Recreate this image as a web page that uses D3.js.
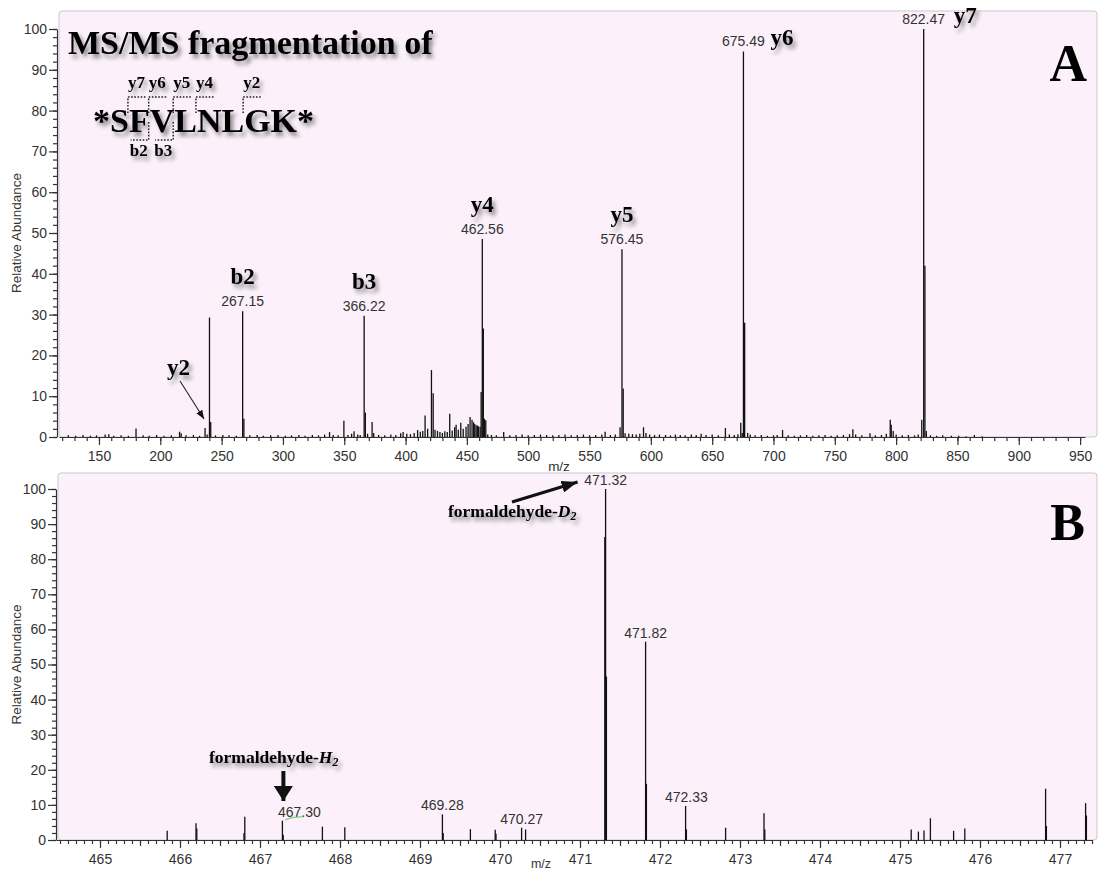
<!DOCTYPE html>
<html>
<head>
<meta charset="utf-8">
<script src="https://cdn.jsdelivr.net/npm/d3@7"></script>
<style>
  body { margin: 0; background: #fff; }
  svg { display: block; }
</style>
</head>
<body>
<div id="chart"></div>
<script>
// ---- Panel A : MS/MS spectrum of *SFVLNLGK* ----
const mzA = [125, 131, 137, 143, 148, 155, 158, 162, 168, 174, 180.2, 186, 191, 197, 203, 209, 215.7, 217, 221, 227, 232,
  236.5, 238.2, 240.1, 241.1, 245, 251, 256, 262, 267.15, 268.15, 273, 279, 284, 290, 296, 302, 307, 313, 318, 324, 329,
  334, 338, 341, 345, 349.7, 353, 356, 358, 361, 363, 366.22, 367.2, 369, 372.7, 374, 378, 383, 388, 392, 396, 398, 401,
  404, 407, 409.8, 412, 414, 415.9, 418, 421.1, 422.5, 424, 426, 428, 430, 432, 434, 436, 438, 440, 441.2, 443, 445, 447,
  449.3, 451, 452.6, 454.2, 455.5, 456.4, 457.5, 458.5, 459.5, 460.8, 461.6, 462.56, 463.4, 464.3, 465.4, 467, 470, 474,
  480, 485, 490, 495, 500, 505, 510, 515, 520, 525, 530, 535, 540, 545, 550, 555, 560, 562.7, 567, 571, 574.9, 576.45,
  577.45, 579, 582, 585, 588, 591, 594, 596, 599, 603, 607, 612, 616, 620, 624, 628, 633, 637, 641, 645, 650, 655, 660.8,
  664, 668, 671, 673.3, 674.5, 675.49, 676.49, 678.9, 681, 685, 690, 695, 700, 703, 707.4, 712, 717, 722, 727, 732, 737,
  742, 747, 752, 757, 762, 764.7, 767, 772, 778.7, 783, 788, 792, 795.2, 796, 797.6, 800, 805, 810, 815, 818, 820.9,
  822.47, 823.47, 824.6, 828, 833, 838, 845, 851, 857, 863.8, 870];
const intA = [0.4, 0.3, 0.5, 0.3, 0.4, 0.6, 0.7, 0.3, 0.4, 0.3, 2.1, 0.4, 0.3, 0.5, 0.3, 0.4, 1.3, 0.9, 0.4, 0.5, 0.3,
  2.2, 0.6, 29.3, 3.7, 0.4, 0.5, 0.4, 0.3, 30.8, 4.5, 0.4, 0.5, 0.3, 0.4, 0.5, 0.3, 0.4, 0.5, 0.3, 0.5, 0.4,
  0.6, 1.2, 0.5, 0.4, 4.0, 0.5, 0.8, 1.4, 0.6, 0.5, 29.7, 6.0, 0.8, 3.7, 1.0, 0.5, 0.4, 0.6, 0.5, 0.9, 1.2, 0.8,
  0.7, 1.0, 1.7, 1.3, 1.5, 5.3, 2.0, 16.4, 10.7, 1.8, 1.5, 1.2, 1.0, 1.4, 1.2, 5.7, 1.6, 2.4, 3.0, 1.8, 3.5, 2.0,
  2.5, 3.2, 4.9, 4.2, 3.6, 3.2, 2.9, 2.8, 2.6, 2.5, 11.0, 48.5, 26.6, 4.5, 4.1, 0.6, 0.5, 0.4,
  1.2, 0.4, 0.5, 0.6, 0.4, 0.5, 0.6, 0.5, 0.4, 0.5, 0.6, 0.4, 0.5, 0.6, 0.4, 0.5, 0.6, 1.3, 0.5, 0.6, 2.4, 46.0,
  11.9, 0.9, 0.8, 0.7, 0.6, 0.8, 2.4, 1.0, 0.6, 0.5, 0.6, 0.5, 0.4, 0.6, 0.5, 0.4, 0.6, 0.5, 0.8, 0.5, 0.6, 0.4, 2.2,
  0.6, 0.5, 0.7, 3.5, 1.0, 94.5, 28.0, 1.0, 0.6, 0.4, 0.5, 0.3, 0.4, 0.5, 1.7, 0.4, 0.3, 0.4, 0.5, 0.3, 0.4,
  0.5, 0.3, 0.4, 0.5, 0.7, 1.9, 0.6, 0.4, 0.9, 0.4, 0.5, 0.8, 4.2, 3.0, 1.5, 0.6, 0.4, 0.5, 0.4, 0.6, 4.2,
  100, 42, 1.5, 0.4, 0.3, 0.4, 0.3, 0.3, 0.2, 0.5, 0.2];

// labelled peaks in A and their fragment ion names
const labelMzA = [267.15, 366.22, 462.56, 576.45, 675.49, 822.47];
const labelIntA = [30.8, 29.7, 48.5, 46.0, 94.5, 100];
const ionA = ["b2", "b3", "y4", "y5", "y6", "y7"];

// ---- Panel B : zoom around the precursor ----
const mzB = [465.84, 466.2, 466.21, 466.8, 466.81, 467.28, 467.29, 467.78, 468.06, 469.28, 469.29, 469.63, 469.94,
  469.95, 470.27, 470.32, 471.31, 471.32, 471.33, 471.82, 471.83, 472.32, 472.33, 472.82, 473.3, 473.31, 475.14,
  475.23, 475.3, 475.38, 475.67, 475.81, 476.82, 476.83, 477.32, 477.33];
const intB = [2.6, 4.8, 3.3, 2.0, 6.6, 5.5, 1.5, 3.8, 3.6, 7.3, 2.0, 3.1, 2.9,
  1.8, 3.5, 3.0, 86.3, 100, 46.6, 56.5, 16.0, 9.7, 3.0, 3.5, 7.6, 3.0, 3.0,
  2.4, 2.7, 6.2, 2.6, 3.3, 14.6, 4.0, 10.5, 7.0];
const labelMzB = [467.30, 469.28, 470.27, 471.32, 471.82, 472.33];
const labelIntB = [5.5, 7.3, 3.5, 100, 56.5, 9.7];

// axis ticks
const xTicksA = d3.range(150, 951, 50);
const xMinorA = d3.range(120, 951, 10);
const xTicksB = d3.range(465, 478);
const xMinorB = d3.range(4645, 4775).map(v => v / 10);
const yTicks = d3.range(0, 101, 10);
const yMinor = d3.range(0, 101, 2);

// peptide annotation
const peptide = "*SFVLNLGK*";
const yIons = ["y7", "y6", "y5", "y4", "y2"];
const yCutChar = [2, 3, 4, 5, 7];
const bIons = ["b2", "b3"];
const bCutChar = [3, 4];

const W = 1099, H = 870;
const sans = "'Liberation Sans', Arial, sans-serif";
const serif = "'Liberation Serif', 'Times New Roman', serif";
const pink = "#fcf1fa";
const tickCol = "#333";

const svg = d3.select("#chart").append("svg")
  .attr("width", W)
  .attr("height", H)
  .style("background", "#fff");

// ---- defs: soft shadow + arrow heads ----
const defs = svg.append("defs");
const f = defs.append("filter").attr("id", "shadow")
  .attr("x", "-20%").attr("y", "-30%").attr("width", "150%").attr("height", "180%");
f.append("feGaussianBlur").attr("in", "SourceAlpha").attr("stdDeviation", 2.2).attr("result", "blur");
f.append("feOffset").attr("in", "blur").attr("dx", 3).attr("dy", 4).attr("result", "off");
f.append("feComponentTransfer").attr("in", "off").attr("result", "soft")
  .append("feFuncA").attr("type", "linear").attr("slope", 0.45);
const fm = f.append("feMerge");
fm.append("feMergeNode").attr("in", "soft");
fm.append("feMergeNode").attr("in", "SourceGraphic");

function marker(id, len, wid) {
  defs.append("marker").attr("id", id)
    .attr("markerUnits", "userSpaceOnUse")
    .attr("viewBox", `0 0 ${len} ${wid}`)
    .attr("refX", len).attr("refY", wid / 2)
    .attr("markerWidth", len).attr("markerHeight", wid)
    .attr("orient", "auto")
    .append("path")
    .attr("d", `M0,0 L${len},${wid / 2} L0,${wid} Z`)
    .attr("fill", "#111");
}
marker("headSmall", 9, 7);
marker("headBig", 16, 12);
marker("headDown", 15, 19);

// ---- scales ----
const xA = d3.scaleLinear().domain([117.4, 954]).range([59, 1085]);
const yA = d3.scaleLinear().domain([0, 100]).range([437, 29]);
const xB = d3.scaleLinear().domain([464.45, 477.4]).range([56, 1092]);
const yB = d3.scaleLinear().domain([0, 100]).range([840, 489]);

function panel(x, y, frame, mz, ints, xMaj, xMin, xMidStep) {
  const g = svg.append("g");

  // plot background
  g.append("rect")
    .attr("x", frame[0]).attr("y", frame[1])
    .attr("width", frame[2] - frame[0]).attr("height", y(0) - frame[1])
    .attr("rx", 3)
    .attr("fill", pink)
    .attr("stroke", "#c9c9c9")
    .attr("stroke-width", 1);

  // sticks
  g.selectAll("line.peak")
    .data(d3.zip(mz, ints))
    .join("line")
    .attr("class", "peak")
    .attr("x1", d => x(d[0])).attr("x2", d => x(d[0]))
    .attr("y1", y(0)).attr("y2", d => y(d[1]))
    .attr("stroke", "#111")
    .attr("stroke-width", 1.3);

  // y axis
  g.append("g")
    .attr("transform", `translate(${frame[0] - 2},0)`)
    .call(d3.axisLeft(y).tickValues(yTicks).tickSize(8).tickPadding(2).tickSizeOuter(0));
  g.append("g")
    .attr("transform", `translate(${frame[0] - 2},0)`)
    .call(d3.axisLeft(y).tickValues(yMinor).tickSize(4).tickFormat("").tickSizeOuter(0))
    .select(".domain").remove();

  // x axis
  g.append("g")
    .attr("transform", `translate(0,${y(0)})`)
    .call(d3.axisBottom(x).tickValues(xMaj).tickSize(8).tickPadding(6).tickSizeOuter(0));
  g.append("g")
    .attr("transform", `translate(0,${y(0)})`)
    .call(d3.axisBottom(x).tickValues(xMin).tickSize(4).tickFormat("").tickSizeOuter(0))
    .select(".domain").remove();
  if (xMidStep) {
    g.append("g")
      .attr("transform", `translate(0,${y(0)})`)
      .call(d3.axisBottom(x).tickValues(xMidStep).tickSize(6).tickFormat("").tickSizeOuter(0))
      .select(".domain").remove();
  }

  g.selectAll(".tick text")
    .attr("font-family", sans)
    .attr("font-size", 14)
    .attr("fill", tickCol);
  g.selectAll(".tick line, .domain")
    .attr("stroke", tickCol)
    .attr("stroke-width", 1.2);

  // axis titles
  g.append("text")
    .attr("transform", `translate(21,${(y(0) + y(100)) / 2}) rotate(-90)`)
    .attr("text-anchor", "middle")
    .attr("font-family", sans)
    .attr("font-size", 13.5)
    .attr("fill", tickCol)
    .text("Relative Abundance");
  return g;
}

// ================= Panel A =================
const gA = panel(xA, yA, [59, 11, 1097], mzA, intA, xTicksA, xMinorA, null);

gA.append("text")
  .attr("x", 559).attr("y", 471)
  .attr("text-anchor", "middle")
  .attr("font-family", sans).attr("font-size", 13.5).attr("fill", tickCol)
  .text("m/z");

// m/z value labels
gA.selectAll("text.mzlab")
  .data(d3.zip(labelMzA, labelIntA))
  .join("text")
  .attr("class", "mzlab")
  .attr("x", d => xA(d[0]))
  .attr("y", d => yA(d[1]) - 5)
  .attr("text-anchor", "middle")
  .attr("font-family", sans).attr("font-size", 14).attr("fill", tickCol)
  .text(d => d[0].toFixed(2));

// fragment ion names (b2..y5 above the value, y6/y7 to the right)
gA.selectAll("text.ion")
  .data(d3.zip(labelMzA, labelIntA, ionA))
  .join("text")
  .attr("class", "ion")
  .attr("x", d => d[1] > 90 ? xA(d[0]) + (d[2] === "y7" ? 30 : 27) : xA(d[0]))
  .attr("y", d => d[1] > 90 ? yA(d[1]) - 6 : yA(d[1]) - 27)
  .attr("text-anchor", d => d[1] > 90 ? "start" : "middle")
  .attr("font-family", serif).attr("font-weight", "bold").attr("font-size", 23)
  .attr("filter", "url(#shadow)")
  .text(d => d[2]);

// y2 with its arrow
gA.append("text")
  .attr("x", 190).attr("y", 375)
  .attr("text-anchor", "end")
  .attr("font-family", serif).attr("font-weight", "bold").attr("font-size", 23)
  .attr("filter", "url(#shadow)")
  .text("y2");
gA.append("line")
  .attr("x1", 180).attr("y1", 381)
  .attr("x2", xA(235.7)).attr("y2", yA(4.4))
  .attr("stroke", "#222").attr("stroke-width", 1.1)
  .attr("marker-end", "url(#headSmall)");

// panel letter
gA.append("text")
  .attr("x", 1087).attr("y", 81)
  .attr("text-anchor", "end")
  .attr("font-family", serif).attr("font-weight", "bold").attr("font-size", 52)
  .text("A");

// title + peptide scheme
gA.append("text")
  .attr("x", 68).attr("y", 54)
  .attr("font-family", serif).attr("font-weight", "bold").attr("font-size", 34)
  .attr("filter", "url(#shadow)")
  .text("MS/MS fragmentation of");

const pep = gA.append("text")
  .attr("x", 93).attr("y", 132)
  .attr("font-family", serif).attr("font-weight", "bold").attr("font-size", 34)
  .attr("filter", "url(#shadow)")
  .text(peptide);

const pepNode = pep.node();
const cutX = i => pepNode.getStartPositionOfChar(i).x - 1;
const dots = "1.6,1.6";

yIons.forEach((name, k) => {
  const cx = cutX(yCutChar[k]);
  gA.append("path")
    .attr("d", `M${cx},113 V97 H${cx + 19}`)
    .attr("fill", "none").attr("stroke", "#222").attr("stroke-width", 1.5)
    .attr("stroke-dasharray", dots);
  gA.append("text")
    .attr("x", cx).attr("y", 88)
    .attr("font-family", serif).attr("font-weight", "bold").attr("font-size", 17)
    .attr("filter", "url(#shadow)")
    .text(name);
});

bIons.forEach((name, k) => {
  const cx = cutX(bCutChar[k]);
  gA.append("path")
    .attr("d", `M${cx},122 V140 H${cx - 18}`)
    .attr("fill", "none").attr("stroke", "#222").attr("stroke-width", 1.5)
    .attr("stroke-dasharray", dots);
  gA.append("text")
    .attr("x", cx - 1).attr("y", 156)
    .attr("text-anchor", "end")
    .attr("font-family", serif).attr("font-weight", "bold").attr("font-size", 17)
    .attr("filter", "url(#shadow)")
    .text(name);
});

// ================= Panel B =================
const midB = d3.range(465, 477).map(v => v + 0.5);
const gB = panel(xB, yB, [58, 473, 1097], mzB, intB, xTicksB, xMinorB, midB);

gB.append("text")
  .attr("x", 541).attr("y", 868)
  .attr("text-anchor", "middle")
  .attr("font-family", sans).attr("font-size", 12.5).attr("fill", tickCol)
  .text("m/z");

gB.selectAll("text.mzlab")
  .data(d3.zip(labelMzB, labelIntB))
  .join("text")
  .attr("class", "mzlab")
  .attr("x", d => d[0] === 467.30 ? xB(d[0]) - 6 : xB(d[0]))
  .attr("y", d => yB(d[1]) - 4)
  .attr("text-anchor", d => d[0] === 467.30 ? "start" : "middle")
  .attr("font-family", sans).attr("font-size", 14).attr("fill", tickCol)
  .text(d => d[0].toFixed(2));

// little green mark under 467.30
gB.append("path")
  .attr("d", `M${xB(467.30) + 1},820 Q${xB(467.30) + 10},816 ${xB(467.30) + 19},817`)
  .attr("fill", "none").attr("stroke", "#7ccf7c").attr("stroke-width", 1.2);

function formaldehyde(x, y, iso) {
  const t = gB.append("text")
    .attr("x", x).attr("y", y)
    .attr("font-family", serif).attr("font-weight", "bold").attr("font-size", 17.5)
    .attr("filter", "url(#shadow)");
  t.append("tspan").text("formaldehyde-");
  t.append("tspan").attr("font-style", "italic").text(iso);
  t.append("tspan").attr("font-style", "italic").attr("font-size", 12).attr("dy", 3).text("2");
}
formaldehyde(448, 517, "D");
formaldehyde(209, 763, "H");

// arrows
gB.append("line")
  .attr("x1", 512).attr("y1", 502)
  .attr("x2", xB(471.32) - 28).attr("y2", yB(100) - 7)
  .attr("stroke", "#111").attr("stroke-width", 3.2)
  .attr("marker-end", "url(#headBig)");
gB.append("line")
  .attr("x1", xB(467.28) + 1).attr("y1", 771)
  .attr("x2", xB(467.28) + 1).attr("y2", 801)
  .attr("stroke", "#111").attr("stroke-width", 4)
  .attr("marker-end", "url(#headDown)");

gB.append("text")
  .attr("x", 1085).attr("y", 540)
  .attr("text-anchor", "end")
  .attr("font-family", serif).attr("font-weight", "bold").attr("font-size", 52)
  .text("B");
</script>
</body>
</html>
